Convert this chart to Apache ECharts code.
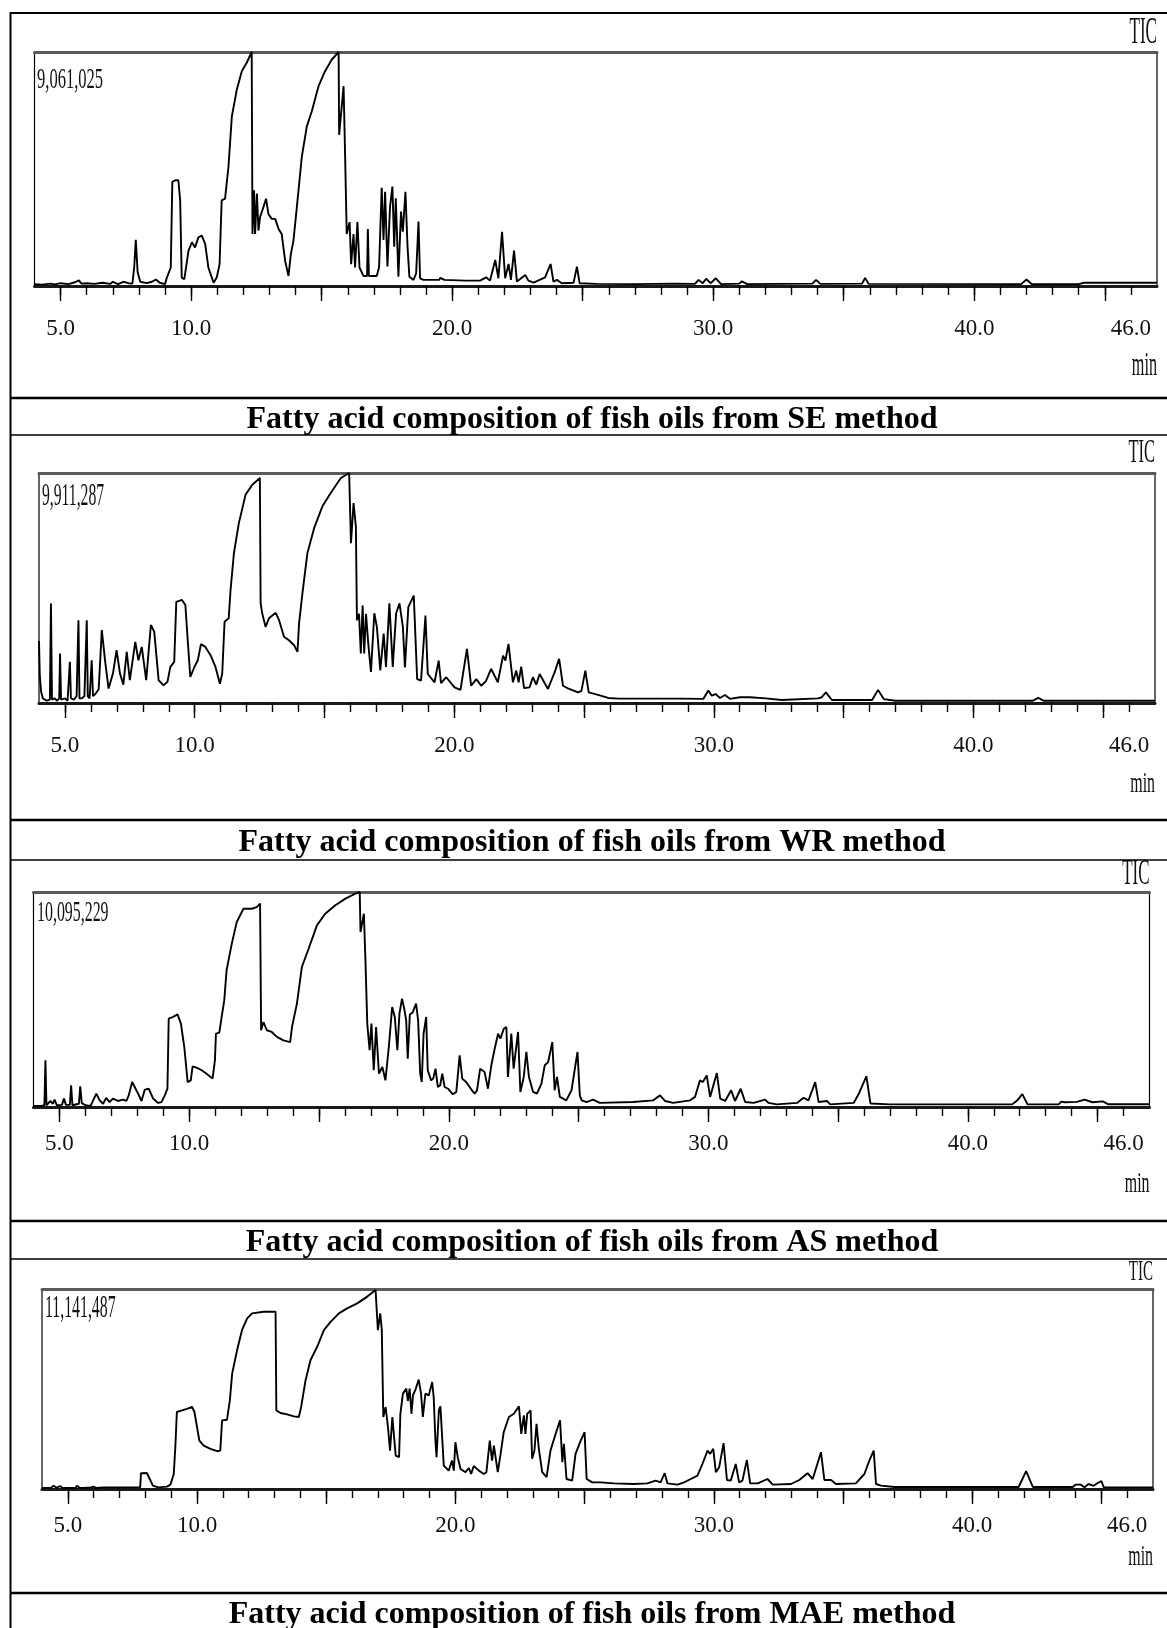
<!DOCTYPE html>
<html>
<head>
<meta charset="utf-8">
<script src="https://cdn.jsdelivr.net/npm/echarts@6/dist/echarts.min.js"></script>
<style>
  html, body { margin: 0; padding: 0; background: #fff; }
  #chart { width: 1167px; height: 1628px; }
</style>
</head>
<body>
<div id="chart"></div>
<script>
// ---- Data (retention time in min, TIC intensity in % of panel maximum) ----
const panelTitles = [
  "Fatty acid composition of fish oils from SE method",
  "Fatty acid composition of fish oils from WR method",
  "Fatty acid composition of fish oils from AS method",
  "Fatty acid composition of fish oils from MAE method"
];
const maxCounts = ["9,061,025", "9,911,287", "10,095,229", "11,141,487"];
const labelTicks = [5, 10, 20, 30, 40, 46];
const majorTicks = [5, 10, 15, 20, 25, 30, 35, 40, 45];
const minorTicks = [5,6,7,8,9,10,11,12,13,14,15,16,17,18,19,20,21,22,23,24,25,26,27,28,29,30,31,32,33,34,35,36,37,38,39,40,41,42,43,44,45,46];

const SE = [[4.0,0.8],[4.3,0.6],[4.6,1.0],[4.8,0.7],[5.0,1.2],[5.3,0.8],[5.55,1.6],[5.7,2.4],[5.8,1.0],[6.0,1.2],[6.3,0.9],[6.6,1.4],[6.9,0.9],[7.0,1.8],[7.2,0.8],[7.4,1.8],[7.6,1.2],[7.75,1.0],[7.82,8],[7.88,19.7],[7.95,6],[8.05,1.8],[8.3,1.2],[8.5,1.8],[8.65,2.8],[8.8,1.4],[9.0,0.8],[9.07,3.6],[9.22,7.9],[9.28,44.5],[9.4,45.2],[9.51,45.2],[9.58,36.6],[9.64,3.6],[9.74,2.9],[9.9,15.1],[10.03,18.7],[10.15,16.5],[10.28,20.8],[10.41,21.5],[10.54,17.9],[10.66,7.9],[10.86,1.4],[10.98,3.6],[11.09,9.3],[11.17,36.6],[11.30,37.3],[11.43,50.9],[11.56,72.5],[11.75,83.9],[11.94,91.8],[12.13,95.4],[12.32,100],[12.35,22.2],[12.41,40.9],[12.45,22.2],[12.52,39.5],[12.58,23.7],[12.64,29.4],[12.77,33.7],[12.87,37.3],[12.96,30.8],[13.09,28.7],[13.22,28.7],[13.35,24.4],[13.47,22.2],[13.6,10.8],[13.73,4.3],[13.82,13.6],[13.92,19.4],[14.05,33.7],[14.24,55.2],[14.43,68.1],[14.62,74.6],[14.88,85.4],[15.13,91.8],[15.39,96.8],[15.65,100],[15.67,64.6],[15.84,85.4],[15.9,55],[15.96,22.2],[16.07,27.3],[16.13,9.3],[16.22,22.2],[16.28,7.9],[16.37,27.3],[16.45,7.9],[16.6,4.3],[16.74,4.3],[16.77,24.4],[16.81,4.3],[17.11,4.3],[17.2,8],[17.30,42],[17.37,19.7],[17.43,40.3],[17.52,8.3],[17.62,33.9],[17.71,42.5],[17.78,16.8],[17.84,37.5],[17.94,4.0],[18.04,31.8],[18.11,23.2],[18.21,40.3],[18.29,16.8],[18.36,4.0],[18.52,2.6],[18.62,5.4],[18.71,27.5],[18.77,3.3],[18.9,2.6],[19.5,2.6],[19.55,3.5],[19.7,2.6],[20.5,2.3],[21.07,2.3],[21.3,3.7],[21.45,2.3],[21.65,11.1],[21.77,3.3],[21.91,23.2],[22.03,3.3],[22.16,9.4],[22.25,2.6],[22.37,15.1],[22.48,1.9],[22.8,4.7],[22.92,2.3],[23.12,1.4],[23.56,3.7],[23.77,9.4],[23.88,1.9],[24.01,2.6],[24.2,1.2],[24.65,1.4],[24.78,8.3],[24.88,1.2],[25.54,0.9],[27,0.8],[28.5,1.0],[29.3,0.9],[29.44,2.6],[29.6,1.2],[29.73,3.1],[29.9,1.2],[30.1,3.3],[30.3,0.8],[31.0,1.0],[31.1,2.0],[31.3,0.8],[33.8,1.0],[33.94,2.6],[34.1,0.9],[35.7,1.0],[35.82,3.4],[35.95,0.9],[41.8,0.8],[42.0,2.8],[42.2,0.8],[44,0.8],[44.2,1.4],[47,1.4]];

const WR = [[4.0,27],[4.03,12],[4.08,5],[4.15,2],[4.3,1],[4.42,1.5],[4.46,43.3],[4.5,1.5],[4.6,2],[4.7,1],[4.78,2],[4.81,21.5],[4.85,1.5],[5.0,2],[5.1,1],[5.19,17.9],[5.23,2],[5.35,1.5],[5.45,3],[5.52,36],[5.56,2],[5.65,2],[5.75,3],[5.84,36],[5.88,3],[5.95,2],[6.03,18.6],[6.08,3],[6.18,4],[6.3,6],[6.42,31.7],[6.55,18],[6.68,6.3],[6.85,12.8],[6.99,23],[7.12,12.8],[7.25,8],[7.38,22.2],[7.5,9.9],[7.71,26.6],[7.83,18.6],[7.96,24.4],[8.13,9.9],[8.31,33.9],[8.44,31],[8.61,9.9],[8.80,7.7],[8.95,9.2],[9.06,15.7],[9.21,17.9],[9.29,44],[9.51,44.8],[9.64,42.6],[9.73,27.3],[9.83,11.3],[9.99,15.7],[10.12,18.6],[10.24,25.6],[10.41,24.4],[10.61,20.8],[10.80,15.7],[10.97,8.4],[11.06,12.8],[11.15,35.3],[11.31,36.8],[11.38,49.1],[11.51,65.1],[11.70,78.2],[11.96,90.6],[12.22,94.9],[12.51,97.8],[12.54,43.3],[12.60,39],[12.73,33.1],[12.86,36.8],[13.12,39.2],[13.25,36],[13.44,28.8],[13.63,27.3],[13.83,25.1],[13.96,22.2],[14.02,34.6],[14.15,47.7],[14.34,65.1],[14.6,76],[14.92,85.5],[15.24,91.3],[15.63,97.8],[15.95,100],[16.02,69.5],[16.12,86.9],[16.21,76.7],[16.25,36],[16.33,38.8],[16.40,21.5],[16.47,42.4],[16.53,21.5],[16.6,38.8],[16.69,25.4],[16.79,13.5],[16.92,39],[17.02,33],[17.15,14.2],[17.28,30.2],[17.37,15.7],[17.50,43.3],[17.63,15.7],[17.76,39],[17.89,43.3],[17.95,43.1],[18.02,33.1],[18.10,15.5],[18.23,41.7],[18.30,41],[18.44,46.7],[18.57,10.4],[18.72,9.7],[18.89,38],[18.98,12.6],[19.24,9],[19.40,18.4],[19.49,8.6],[19.69,11.2],[20.01,6.8],[20.24,5.7],[20.49,23.5],[20.65,7.5],[20.85,10.4],[21.04,7.5],[21.22,9.5],[21.42,14.8],[21.68,9],[21.88,20.6],[21.97,18.4],[22.09,25.7],[22.26,9],[22.39,14.1],[22.48,9],[22.58,15.8],[22.69,6.5],[22.9,6.8],[23.03,11.2],[23.16,8],[23.29,12.6],[23.61,6.1],[23.87,13.4],[24.04,19.2],[24.19,7.5],[24.38,6.4],[24.77,4.6],[24.9,5.3],[25.05,14.1],[25.18,4.6],[25.54,3.5],[25.93,2.2],[26.32,1.9],[28.76,1.9],[29.6,1.8],[29.79,5.4],[29.92,3.2],[30.07,3.9],[30.24,2.2],[30.43,3.5],[30.62,1.8],[31.01,2.5],[31.4,2.5],[32.0,2.0],[32.62,1.3],[34.0,2.0],[34.15,2.4],[34.32,4.6],[34.55,1.3],[36.1,1.3],[36.33,5.7],[36.55,1.7],[37,1.0],[42.3,1.0],[42.5,2.2],[42.7,1.0],[47,1.0]];

const AS = [[4.0,0.5],[4.3,0.5],[4.42,0.8],[4.46,21.7],[4.5,0.8],[4.65,2.8],[4.75,1.5],[4.81,3.4],[4.9,0.8],[5.1,1],[5.17,4.0],[5.25,1],[5.4,1],[5.45,10.1],[5.5,0.8],[5.75,1.5],[5.80,9.6],[5.86,1.8],[6.0,0.8],[6.2,0.5],[6.42,6.2],[6.55,3.1],[6.68,1.5],[6.80,4.2],[6.93,2.3],[7.06,3.9],[7.25,2.8],[7.45,3.4],[7.58,2.8],[7.67,5.4],[7.80,11.6],[7.9,9.3],[8.03,6.2],[8.16,2.8],[8.29,8.1],[8.44,8.5],[8.61,3.9],[8.80,1.9],[8.93,2.3],[9.06,5.4],[9.16,8.5],[9.21,41.1],[9.38,41.9],[9.55,43.1],[9.68,38.8],[9.81,27.9],[9.94,11.6],[10.06,12.4],[10.13,18.9],[10.28,18.3],[10.48,17.1],[10.67,15.5],[10.90,13.2],[10.99,21.7],[11.03,34.1],[11.16,34.6],[11.25,41.9],[11.35,49.6],[11.44,63.6],[11.64,76],[11.83,86],[12.09,92.2],[12.41,92.2],[12.6,93],[12.73,94.6],[12.77,35.7],[12.86,39.5],[12.99,35.7],[13.18,34.9],[13.38,32.6],[13.63,31],[13.89,30.2],[13.96,37.2],[14.15,48.1],[14.34,65.1],[14.6,73.6],[14.92,84.5],[15.24,89.9],[15.63,93.8],[16.02,96.9],[16.4,99.2],[16.57,100],[16.6,81.4],[16.73,89.9],[16.79,68.2],[16.86,38.8],[16.95,26.4],[17.02,38.8],[17.11,17.1],[17.2,37.2],[17.31,15.5],[17.44,18.6],[17.56,12.4],[17.69,27.9],[17.82,46.5],[17.92,41.9],[18.02,26.4],[18.1,43.4],[18.2,50.4],[18.28,46],[18.36,40.3],[18.42,22.5],[18.5,43],[18.61,44],[18.74,48.1],[18.82,40.3],[18.9,15.5],[18.96,11.6],[19.03,34.1],[19.13,41.9],[19.19,17.1],[19.32,12.4],[19.4,13.2],[19.49,17.8],[19.58,9.3],[19.67,10.1],[19.75,15.5],[19.84,9.3],[19.97,8.5],[20.16,5.9],[20.29,7],[20.42,24],[20.52,13.2],[20.67,11.6],[20.87,8.1],[21.0,6.2],[21.09,7.8],[21.21,17.8],[21.38,16.3],[21.51,8.5],[21.64,19.4],[21.77,27.1],[21.9,34.1],[21.99,31.8],[22.12,36.4],[22.22,37.2],[22.28,14],[22.41,34.1],[22.5,17.8],[22.67,34.9],[22.76,7],[22.89,14],[22.99,25.6],[23.09,14],[23.25,7],[23.4,6.2],[23.57,10.9],[23.7,19.4],[23.83,20.9],[23.99,30.2],[24.08,7.8],[24.17,14],[24.28,4.7],[24.53,3.1],[24.73,7.8],[24.96,25.6],[25.05,5.4],[25.12,3.1],[25.31,2.3],[25.56,3.4],[25.82,1.9],[27.1,2.3],[27.88,3.1],[28.14,5.4],[28.33,2.8],[28.65,1.9],[29.3,3.1],[29.49,4.7],[29.68,12.4],[29.79,11.6],[29.94,14.7],[30.07,4.7],[30.33,15.8],[30.46,3.9],[30.65,2.8],[30.88,7.8],[31.03,2.8],[31.25,8.5],[31.42,2.3],[31.75,1.9],[32.19,3.4],[32.32,1.9],[32.64,1.2],[33.42,1.9],[33.67,4.3],[33.86,3.1],[34.12,11.6],[34.25,2.3],[34.57,2.8],[34.7,1.2],[35.6,1.9],[35.8,6.2],[36.09,14.3],[36.25,1.6],[37,1.2],[41.7,1.2],[41.9,3],[42.1,6],[42.3,1.2],[43.5,1.2],[43.6,2.5],[43.75,2.2],[44.2,2.4],[44.5,3.4],[44.8,2.2],[45.2,2.6],[45.4,1.3],[47,1.3]];

const MAE = [[4.0,0.5],[4.35,0.6],[4.45,1.7],[4.55,0.6],[4.7,1.5],[4.8,0.5],[5.3,0.5],[5.35,1.7],[5.45,0.6],[5.5,1.5],[5.6,0.5],[5.9,0.8],[6.0,1.2],[6.1,0.5],[6.4,0.8],[7.8,0.8],[7.83,7.9],[8.06,8.0],[8.17,5.0],[8.29,1.7],[8.5,0.8],[8.84,1.2],[8.97,2.2],[9.10,7.5],[9.16,20.9],[9.22,38.5],[9.42,39.3],[9.61,40.1],[9.81,41],[9.9,38.5],[10.0,30.9],[10.09,24.2],[10.26,21.7],[10.52,20.1],[10.78,18.9],[10.9,19.2],[10.97,34.3],[11.16,34.6],[11.27,44.3],[11.36,57.7],[11.55,69.4],[11.74,79.4],[11.94,85.3],[12.13,87.8],[12.58,88.6],[13.04,88.6],[13.07,39.3],[13.23,38],[13.49,37.3],[13.75,36.3],[13.94,36],[14.03,41],[14.2,54.3],[14.39,64.4],[14.65,71.1],[14.91,79.4],[15.17,83.6],[15.49,87.8],[15.81,90.3],[16.2,92.8],[16.59,96.2],[16.91,99.5],[16.98,100],[17.0,79.4],[17.09,87.8],[17.15,80],[17.21,36],[17.3,41],[17.39,30.9],[17.47,19.2],[17.56,36],[17.69,16.7],[17.82,15.9],[17.87,37.6],[17.97,47.7],[18.1,50.2],[18.16,44],[18.23,50.2],[18.3,37.6],[18.36,47],[18.45,49.5],[18.58,54.7],[18.67,47.7],[18.74,36],[18.84,47.7],[18.97,46.8],[19.1,53.5],[19.16,46],[19.23,23.4],[19.27,15.9],[19.36,39.3],[19.42,41.3],[19.51,20.9],[19.55,11.7],[19.74,9.2],[19.87,14.2],[19.94,9.2],[20.0,23.4],[20.09,15.9],[20.2,10],[20.39,8.4],[20.52,10.5],[20.61,7.5],[20.71,11.5],[20.91,9.2],[21.1,7.5],[21.2,8.4],[21.33,24.2],[21.42,14.2],[21.49,21.7],[21.64,8.4],[21.75,17.6],[21.87,28.4],[22.07,36],[22.26,37.6],[22.46,41.3],[22.55,27.6],[22.65,36.8],[22.71,27.6],[22.78,37.6],[22.91,39.3],[22.97,15.1],[23.06,19.2],[23.14,32.6],[23.23,20.1],[23.36,8.4],[23.53,5.9],[23.68,19.2],[23.88,27.6],[24.05,34.3],[24.14,13.4],[24.2,22.6],[24.3,5.0],[24.52,4.2],[24.65,17.6],[24.85,24.2],[25.0,28.4],[25.08,5.0],[25.3,3.3],[25.62,3.3],[26.14,2.8],[26.91,2.5],[27.43,2.8],[27.75,4.2],[27.94,3.3],[28.1,7.9],[28.21,2.8],[28.6,2.2],[28.85,3.3],[29.11,5.0],[29.37,6.7],[29.56,12.5],[29.76,19.2],[29.86,17.6],[29.98,20.1],[30.08,8.4],[30.21,10.9],[30.38,22.9],[30.51,4.5],[30.66,4.2],[30.85,12.5],[30.98,3.3],[31.11,4.2],[31.28,14.5],[31.41,2.8],[31.7,2.8],[32.08,5],[32.28,2.2],[32.99,2.5],[33.31,4.5],[33.63,7.9],[33.83,5.0],[34.15,18.4],[34.28,4.5],[34.54,4.5],[34.73,2.5],[35.5,2.8],[35.83,7.5],[36.02,14.2],[36.19,19.2],[36.28,2.5],[36.47,1.7],[37,1.0],[41.8,1.0],[42.09,8.9],[42.35,1.0],[43.9,1.0],[44.0,2.2],[44.2,2.2],[44.35,0.8],[44.5,2.5],[44.7,1.6],[44.86,3.0],[45.0,3.9],[45.1,0.8],[47,0.8]];

const traces = [SE, WR, AS, MAE];

// ---- Layout (pixels) ----
const panels = [
  { left: 34.5, top: 52,   width: 1122.5, height: 234, labelMargin: 31,
    tic: { y: 33, size: 38, sx: 0.45 }, max: { x: 37, y: 80, size: 29, sx: 0.57 }, min: { y: 366, size: 33, sx: 0.49 }, titleY: 420 },
  { left: 39,   top: 473,  width: 1116,   height: 230, labelMargin: 31,
    tic: { y: 453, size: 33, sx: 0.5 }, max: { x: 42, y: 497, size: 32, sx: 0.49 }, min: { y: 784, size: 30, sx: 0.53 }, titleY: 843 },
  { left: 33.5, top: 892,  width: 1116,   height: 215, labelMargin: 25,
    tic: { y: 875, size: 36, sx: 0.47 }, max: { x: 37, y: 913, size: 30, sx: 0.53 }, min: { y: 1184, size: 30, sx: 0.53 }, titleY: 1243 },
  { left: 42,   top: 1289, width: 1111,   height: 200, labelMargin: 25,
    tic: { y: 1272, size: 30, sx: 0.5 }, max: { x: 45, y: 1309, size: 31, sx: 0.51 }, min: { y: 1557, size: 30, sx: 0.53 }, titleY: 1615 }
];

const SERIF = '"Liberation Serif", "Times New Roman", serif';
const grids = [], xAxes = [], yAxes = [], series = [], titles = [], graphics = [];

panels.forEach((p, i) => {
  grids.push({ left: p.left, top: p.top, width: p.width, height: p.height, show: true,
               borderColor: '#000', borderWidth: 1.2, backgroundColor: 'transparent' });
  xAxes.push({
    gridIndex: i, type: 'value', min: 4, max: 47, position: 'bottom',
    axisLine: { show: true, onZero: false, lineStyle: { color: '#1a1a1a', width: 3 } },
    axisTick: { show: true, customValues: minorTicks, length: 9, lineStyle: { color: '#000', width: 1.4 } },
    axisLabel: { show: true, customValues: labelTicks, formatter: v => Number(v).toFixed(1),
                 margin: p.labelMargin, fontFamily: SERIF, fontSize: 23, color: '#111' },
    splitLine: { show: false }
  });
  xAxes.push({
    gridIndex: i, type: 'value', min: 4, max: 47, position: 'bottom',
    axisLine: { show: false },
    axisTick: { show: true, customValues: majorTicks, length: 15, lineStyle: { color: '#000', width: 1.4 } },
    axisLabel: { show: false }, splitLine: { show: false }
  });
  xAxes.push({
    gridIndex: i, type: 'value', min: 4, max: 47, position: 'top',
    axisLine: { show: true, onZero: false, lineStyle: { color: '#5a5a5a', width: 3 } },
    axisTick: { show: false }, axisLabel: { show: false }, splitLine: { show: false }
  });
  yAxes.push({ gridIndex: i, type: 'value', min: 0, max: 100, show: false, splitLine: { show: false } });
  series.push({
    type: 'line', name: panelTitles[i], xAxisIndex: i * 3, yAxisIndex: i,
    data: traces[i], showSymbol: false, symbol: 'none', clip: false, silent: true,
    lineStyle: { color: '#000', width: 1.9 }
  });
  titles.push({
    text: panelTitles[i], left: 592, top: p.titleY, textAlign: 'center', textVerticalAlign: 'middle',
    padding: 0,
    textStyle: { fontFamily: SERIF, fontWeight: 'bold', fontSize: 32, color: '#000' }
  });
  const right = p.left + p.width;
  graphics.push({ type: 'text', x: right, y: p.tic.y, scaleX: p.tic.sx, silent: true,
    style: { text: 'TIC', font: p.tic.size + 'px ' + SERIF, fill: '#111', textAlign: 'right', textVerticalAlign: 'middle' } });
  graphics.push({ type: 'text', x: p.max.x, y: p.max.y, scaleX: p.max.sx, silent: true,
    style: { text: maxCounts[i], font: p.max.size + 'px ' + SERIF, fill: '#111', textAlign: 'left', textVerticalAlign: 'middle' } });
  graphics.push({ type: 'text', x: right, y: p.min.y, scaleX: p.min.sx, silent: true,
    style: { text: 'min', font: p.min.size + 'px ' + SERIF, fill: '#111', textAlign: 'right', textVerticalAlign: 'middle' } });
});

// frame lines of the figure table
const frame = [
  { y: 13, w: 2 }, { y: 398, w: 2.5 }, { y: 435, w: 1.5 },
  { y: 820, w: 2.5 }, { y: 860, w: 1.5 },
  { y: 1221, w: 2.5 }, { y: 1259, w: 1.5 },
  { y: 1593, w: 2.5 }
];
frame.forEach(f => graphics.push({ type: 'line', silent: true,
  shape: { x1: 10, y1: f.y, x2: 1167, y2: f.y }, style: { stroke: '#000', lineWidth: f.w } }));
graphics.push({ type: 'line', silent: true, shape: { x1: 10.5, y1: 12, x2: 10.5, y2: 1628 },
  style: { stroke: '#000', lineWidth: 2 } });

const chart = echarts.init(document.getElementById('chart'), null, { renderer: 'canvas' });
chart.setOption({
  animation: false,
  backgroundColor: '#fff',
  title: titles,
  grid: grids,
  xAxis: xAxes,
  yAxis: yAxes,
  series: series,
  graphic: graphics
});
</script>
</body>
</html>
